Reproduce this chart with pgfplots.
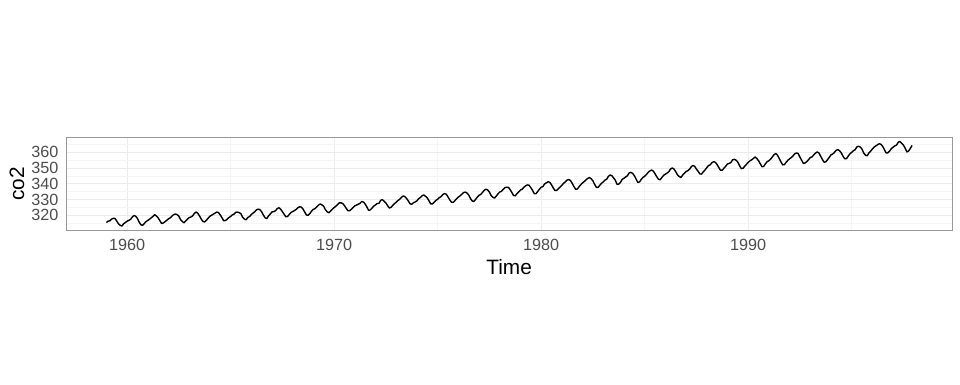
\documentclass[border=0pt]{standalone}
\usepackage{pgfplots}
\usepackage{pgfplotstable}
\pgfplotsset{compat=1.18}
\usepackage{fontspec}
\setmainfont{Liberation Sans}
\definecolor{grey30}{HTML}{4D4D4D}
\definecolor{grey60}{HTML}{999999}
\definecolor{grey92}{HTML}{EBEBEB}
\definecolor{grey96}{HTML}{F5F5F5}
\pgfplotstableread{
v
315.42
316.31
316.50
317.56
318.13
318.00
316.39
314.65
313.68
313.18
314.66
315.43
316.27
316.81
317.42
318.87
319.87
319.43
318.01
315.74
314.00
313.68
314.84
316.03
316.73
317.54
318.38
319.31
320.42
319.61
318.42
316.63
314.83
315.16
315.94
316.85
317.78
318.40
319.53
320.42
320.85
320.45
319.45
317.25
316.11
315.27
316.53
317.53
318.58
318.92
319.70
321.22
322.08
321.31
319.58
317.61
316.05
315.83
316.91
318.20
319.41
320.07
320.74
321.40
322.06
321.73
320.27
318.54
316.54
316.71
317.53
318.55
319.27
320.28
320.73
321.97
322.00
321.71
321.05
318.71
317.66
317.14
318.70
319.25
320.46
321.43
322.23
323.54
323.91
323.59
322.24
320.20
318.48
317.94
319.63
320.87
322.17
322.34
322.88
324.25
324.83
323.93
322.38
320.76
319.10
319.24
320.56
321.80
322.40
322.99
323.73
324.86
325.40
325.20
323.98
321.95
320.18
320.09
321.16
322.74
323.83
324.26
325.47
326.50
327.21
326.54
325.72
323.50
322.22
321.62
322.69
323.95
324.89
325.82
326.77
327.97
327.91
327.50
326.18
324.53
322.93
322.90
323.85
324.96
326.01
326.51
327.01
327.62
328.76
328.40
327.20
325.27
323.20
323.40
324.63
325.85
326.60
327.47
327.58
329.56
329.90
328.92
327.88
326.16
324.68
325.04
326.34
327.39
328.37
329.40
330.14
331.33
332.31
331.90
330.70
329.15
327.35
327.02
327.99
328.48
329.18
330.55
331.32
332.48
332.92
332.08
331.01
329.23
327.27
327.21
328.29
329.41
330.23
331.25
331.87
333.14
333.80
333.43
331.73
329.90
328.40
328.17
329.32
330.59
331.58
332.39
333.33
334.41
334.71
334.17
332.89
330.77
329.14
328.78
330.14
331.52
332.75
333.24
334.53
335.90
336.57
336.10
334.76
332.59
331.42
330.98
332.24
333.68
334.80
335.22
336.47
337.59
337.84
337.72
336.37
334.51
332.60
332.38
333.75
334.78
336.05
336.59
337.79
338.71
339.30
339.12
337.56
335.92
333.75
333.70
335.12
336.56
337.84
338.19
339.91
340.60
341.29
341.00
339.39
337.43
335.72
335.84
336.93
338.04
339.06
340.30
341.21
342.33
342.74
342.08
340.32
338.26
336.52
336.68
338.19
339.44
340.57
341.44
342.53
343.39
343.96
343.18
341.88
339.65
337.81
337.69
339.09
340.32
341.20
342.35
342.93
344.77
345.58
345.14
343.81
342.21
339.69
339.82
340.98
342.82
343.52
344.33
345.11
346.88
347.25
346.62
345.22
343.11
340.90
341.18
342.80
344.04
344.79
345.82
347.25
348.17
348.74
348.07
346.38
344.51
342.92
342.62
344.06
345.38
346.11
346.78
347.68
349.37
350.03
349.37
347.76
345.73
344.68
343.99
345.48
346.72
347.84
348.29
349.23
350.80
351.66
351.07
349.33
347.92
346.27
346.18
347.64
348.78
350.25
351.54
352.05
353.41
354.04
353.62
352.22
350.27
348.55
348.72
349.91
351.18
352.60
352.92
353.53
355.26
355.52
354.97
353.75
351.52
349.64
349.83
351.14
352.37
353.50
354.55
355.23
356.04
357.00
356.07
354.67
352.76
350.82
351.04
352.69
354.07
354.59
355.63
357.03
358.48
359.22
358.12
356.06
353.92
352.05
352.11
353.64
354.89
355.88
356.63
357.72
359.07
359.58
359.17
356.94
354.92
352.94
353.23
354.09
355.33
356.63
357.10
358.32
359.41
360.23
359.55
357.53
355.48
353.67
353.95
355.30
356.78
358.34
358.89
359.95
361.25
361.67
360.94
359.55
357.49
355.84
356.00
357.59
359.05
359.98
361.03
361.66
363.48
363.82
363.30
361.94
359.50
358.11
357.80
359.61
360.74
362.09
363.29
364.06
364.76
365.45
365.01
363.70
361.54
359.51
359.65
360.80
362.38
363.23
364.06
364.61
366.40
366.84
365.68
364.52
362.57
360.24
360.83
362.49
364.34
}\co
\begin{document}
\begin{tikzpicture}[x=1pt,y=1pt]
\useasboundingbox (0,0) rectangle (960,384);
\begin{axis}[
  at={(66pt,153.7pt)}, anchor=south west,
  scale only axis, width=886.3pt, height=93pt,
  xmin=1957.05, xmax=1999.86, ymin=310.5, ymax=369.5,
  xtick={1960,1970,1980,1990},
  minor xtick={1965,1975,1985,1995},
  ytick={320,330,340,350,360},
  minor ytick={315,325,335,345,355,365},
  xticklabels={1960,1970,1980,1990},
  yticklabels={320,330,340,350,360},
  grid=both,
  major grid style={grey92, line width=0.8pt},
  minor grid style={grey96, line width=0.6pt},
  axis line style={grey60, line width=0.8pt},
  major tick length=0pt, minor tick length=0pt,
  tick style={draw=none},
  ticklabel style={font=\fontsize{16.2}{18}\selectfont, text=grey30},
  yticklabel style={xshift=-4pt},
  xticklabel style={yshift=-5pt},
  xlabel={Time}, ylabel={co2},
  label style={font=\fontsize{20.8}{24}\selectfont},
  xlabel style={at={(axis description cs:0.5,-0.3914)}, anchor=center},
  ylabel style={at={(axis description cs:-0.0553,0.5)}, anchor=center},
  clip=true,
]
\addplot[black, line width=1.4pt, line join=round, no markers] table[x expr={1959+\coordindex/12}, y=v] {\co};
\end{axis}
\end{tikzpicture}
\end{document}
